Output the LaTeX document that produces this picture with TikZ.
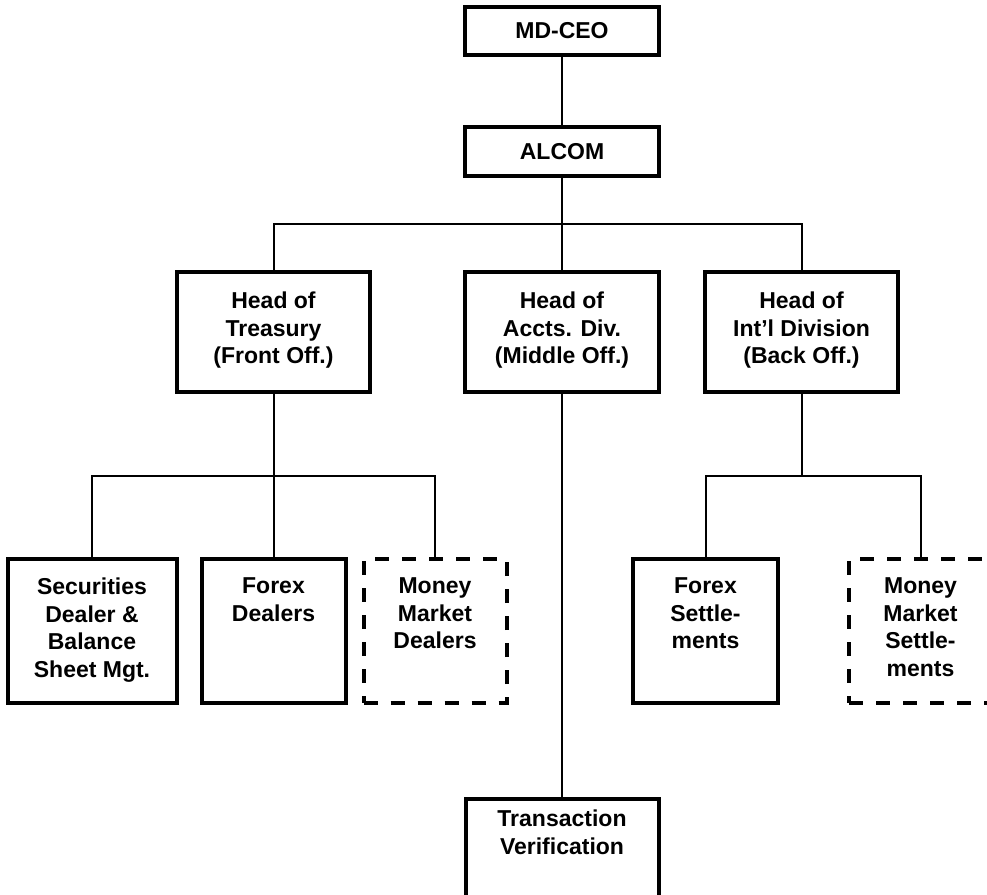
\documentclass[tikz,border=0pt]{standalone}
\usepackage{fontspec}
\setmainfont{Liberation Sans}
\usetikzlibrary{positioning}
\newcommand{\orgfont}{\fontsize{23}{27.5}\selectfont\bfseries}
% text set at the top of a fixed box
\newcommand{\toptxt}[4]{\parbox[c][#1][t]{#2}{\centering\vspace*{#3}#4}}
\tikzset{
	orgbox/.style={rectangle, draw=black, line width=4pt, inner sep=0pt, outer sep=0pt,
		font=\orgfont, align=center},
	dashbox/.style={orgbox, dash pattern=on 14pt off 13pt},
	orgline/.style={line width=2pt}
}

\begin{document}
\begin{tikzpicture}[x=1pt, y=-1pt]
	\useasboundingbox (0,0) rectangle (987,894);
	\node[orgbox, minimum width=194pt, minimum height=48pt] (ceo) at (562,31) {MD-CEO};
	\node[orgbox, minimum width=194pt, minimum height=49pt, below=72pt of ceo] (alcom) {ALCOM};
	% heads of division
	\node[orgbox, minimum width=194pt, minimum height=120pt, below=96pt of alcom] (accts)
		{\toptxt{120pt}{184pt}{20pt}{Head of\\Accts. Div.\\(Middle Off.)}};
	\node[orgbox, minimum width=193pt, minimum height=120pt, left=95pt of accts] (trea)
		{\toptxt{120pt}{183pt}{20pt}{Head of\\Treasury\\(Front Off.)}};
	\node[orgbox, minimum width=193pt, minimum height=120pt, right=46pt of accts] (intl)
		{\toptxt{120pt}{183pt}{20pt}{Head of\\Int’l Division\\(Back Off.)}};
	% desks
	\node[orgbox, minimum width=144pt, minimum height=144pt, below=167pt of trea] (fxd)
		{\toptxt{144pt}{134pt}{19pt}{Forex\\Dealers}};
	\node[orgbox, minimum width=169pt, minimum height=144pt, left=25pt of fxd] (sec)
		{\toptxt{144pt}{159pt}{19pt}{Securities\\Dealer \&\\Balance\\Sheet Mgt.}};
	\node[dashbox, minimum width=143pt, minimum height=144pt, right=18pt of fxd] (mmd)
		{\toptxt{144pt}{133pt}{19pt}{Money\\Market\\Dealers}};
	\node[orgbox, minimum width=145pt, minimum height=144pt, below=167pt of intl, xshift=-96pt] (fxs)
		{\toptxt{144pt}{135pt}{19pt}{Forex\\Settle-\\ments}};
	\node[dashbox, minimum width=143pt, minimum height=144pt, right=71pt of fxs] (mms)
		{\toptxt{144pt}{133pt}{19pt}{Money\\Market\\Settle-\\ments}};
	\node[orgbox, minimum width=193pt, minimum height=110pt, below=407pt of accts] (trans)
		{\toptxt{110pt}{183pt}{11pt}{Transaction\\Verification}};
	% connectors
	\draw[orgline] (ceo) -- (alcom);
	\path (alcom.south) ++(0,48) coordinate (bus1);
	\draw[orgline] (alcom) -- (accts);
	\draw[orgline] (trea.north) |- (bus1) -| (intl.north);
	\draw[orgline] (accts) -- (trans);
	\draw[orgline] (trea.south) -- ++(0,84) coordinate (bus2);
	\draw[orgline] (sec.north) |- (bus2) -| (mmd.north);
	\draw[orgline] (bus2) -- (fxd.north);
	\draw[orgline] (intl.south) -- ++(0,84) coordinate (bus3);
	\draw[orgline] (fxs.north) |- (bus3) -| (mms.north);
\end{tikzpicture}
\end{document}
